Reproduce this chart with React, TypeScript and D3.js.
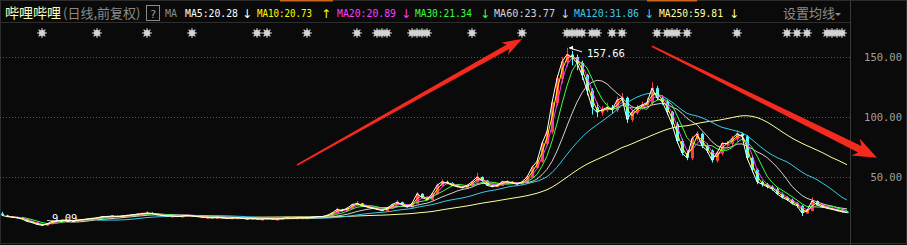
import React from 'react';
import * as d3 from 'd3';

const W = 907;
const H = 245;

// ---- data (one sample ≈ one week of trading) ----
const firstOpen = 19.5;
const closes = [
  18, 17, 16.5, 16, 15, 13, 12, 10.5, 9.8, 11,
  13, 13.5, 14, 14, 13.5, 14, 14.5, 15, 15.5, 16,
  17, 17, 17.5, 17, 17.5, 18, 18.5, 19, 19.5, 20,
  19.5, 18.5, 18, 17.5, 17.5, 17, 17.5, 18, 17.5, 17,
  16.5, 16.5, 16, 16.5, 16, 15.5, 16, 16, 15.5, 15,
  15.5, 15, 15, 15.5, 15, 15, 15.5, 16, 15.5, 16,
  16, 16, 16.5, 17, 17, 18, 20, 23, 22, 24,
  27, 28, 26, 25, 24, 23, 22, 24, 27, 29,
  27, 25, 28, 36, 33, 31, 36, 43, 46, 45,
  43, 42, 41, 43, 46, 50, 47, 43, 42, 43,
  46, 46, 45, 44, 46, 50, 58, 63, 78, 88,
  112, 132, 146, 152, 150, 145, 135, 122, 108, 104,
  106, 108, 106, 114, 116, 98, 104, 108, 110, 112,
  124, 116, 113, 104, 94, 80, 70, 66, 82, 86,
  76, 72, 64, 70, 78, 78, 82, 86, 84, 66,
  56, 46, 44, 42, 40, 36, 33, 31, 28, 26,
  20, 22, 30, 27, 25, 24, 23, 22, 21, 20.3,
];
const highs = [
  21, 18.5, 17.5, 17, 16.3, 15.3, 13.4, 12.3, 10.8, 11.6,
  13.5, 14, 14.6, 14.5, 14.3, 14.4, 15, 15.4, 16, 16.6,
  17.6, 17.8, 18.2, 18, 18, 18.6, 19.2, 19.8, 20.5, 21.5,
  20.6, 19.8, 18.9, 18.3, 18.1, 17.9, 18, 18.6, 18.3, 17.8,
  17.3, 17, 16.8, 16.9, 16.8, 16.3, 16.4, 16.6, 16.3, 15.8,
  15.9, 15.8, 15.4, 15.9, 15.7, 15.3, 15.9, 16.5, 16.2, 16.4,
  16.5, 16.4, 16.9, 17.6, 17.6, 18.6, 20.8, 24.5, 23.5, 25,
  27.8, 30, 28.4, 26.5, 25.3, 24.4, 23.3, 24.6, 27.8, 31,
  29.5, 27.4, 28.8, 37.5, 36.5, 33.5, 36.8, 44.5, 48, 47,
  45.6, 43.8, 42.5, 43.8, 46.8, 53.5, 50.5, 47.5, 43.6, 44,
  46.8, 47.5, 46.5, 45.6, 46.7, 51, 59.5, 66, 80, 92,
  114, 135, 150, 157.66, 155, 152, 147, 136, 124, 112,
  109, 112, 110, 117, 120, 117, 106, 110, 113, 116,
  129, 126, 118, 114, 105, 96, 82, 72, 84, 88,
  87, 78, 73, 71, 79, 80, 84, 89, 87, 85,
  68, 57, 47, 45, 43, 41, 37, 34, 32, 29,
  26.5, 23, 33, 30.5, 27.5, 25.8, 24.6, 23.5, 22.5, 21.5,
];
const lows = [
  17.6, 16.6, 16.1, 15.6, 14.7, 12.7, 11.6, 10.1, 9.09, 9.6,
  10.8, 12.7, 13.2, 13.6, 13.1, 13.2, 13.8, 14.2, 14.8, 15.2,
  15.8, 16.5, 16.7, 16.6, 16.8, 17.1, 17.7, 18.2, 18.7, 19.1,
  19, 18.1, 17.6, 17.1, 17, 16.6, 16.7, 17.2, 17.1, 16.6,
  16.1, 16.1, 15.6, 15.7, 15.7, 15.1, 15.2, 15.6, 15.1, 14.6,
  14.7, 14.7, 14.6, 14.8, 14.7, 14.7, 14.8, 15.3, 15.2, 15.2,
  15.6, 15.7, 15.8, 16.3, 16.6, 16.8, 17.8, 19.8, 21.3, 21.6,
  23.6, 26.5, 25.5, 24.5, 23.5, 22.5, 21.5, 21.7, 23.6, 26.7,
  26.5, 24.5, 24.6, 27.6, 32.5, 30.5, 30.6, 35.5, 42.5, 44,
  42.5, 41.3, 40.5, 40.6, 42.6, 45.6, 46.5, 42.5, 41.3, 41.6,
  42.6, 45.3, 44.5, 43.5, 43.6, 45.6, 49.5, 57, 62, 76,
  86, 109, 128, 142, 143, 139, 131, 118, 102, 100,
  101, 104, 103, 104, 112, 95, 96, 102, 106, 108,
  110, 114, 110, 102, 92, 78, 68, 64, 64, 80,
  74, 70, 62, 62, 68, 76, 76, 80, 82, 64,
  54, 44, 42, 40.5, 38.5, 35, 32, 30, 27, 24.5,
  17.5, 19.5, 21.5, 26.3, 24.5, 23.5, 22.4, 21.4, 20.3, 19.8,
];
const daysPerSample = 5.9;
const maPeriods = [5, 10, 20, 30, 60, 120, 250];
const maLastText = ['20.28', '20.73', '20.89', '21.34', '23.77', '31.86', '59.81'];
const maTrend = ['↓', '↑', '↓', '↓', '↓', '↓', '↓'];
const yTicks = [50, 100, 150];
const markerIdx = [8, 19, 29, 38, 51, 53, 61, 71, 75, 76, 77, 82, 83, 84, 85, 94, 104,
  113, 114, 115, 116, 118, 119, 122, 124, 131, 133, 134, 135, 137, 147, 157, 159, 161,
  165, 166, 167, 168];
const peakIdx = 113;
const peakValue = 157.66;
const lowIdx = 8;
const lowValue = 9.09;
// annotation arrows in data space: [tailIdx, tailPrice, tipIdx, tipPrice]
const arrows = [
  [59, 60, 104, 165],
  [130, 159, 175, 66],
];

// ---- style ----
const maColors = ['#ffffff', '#ffff00', '#ff3cff', '#3cff3c', '#d8d0d0', '#3cc8e8', '#ffff9c'];
const maTextX = [185, 257, 337, 415, 494, 574, 659];
const maTextW = [53, 55, 59, 57, 61, 65, 64];
const maArrowX = [247, 326, 406, 485, 565, 649, 734];
const arrowStyle = [
  { head: 20, wing: 7, shaft0: 0.8, shaft1: 2.6 },
  { head: 24, wing: 9.5, shaft0: 0.8, shaft1: 3.5 },
];
const mono = '"DejaVu Sans Mono", "Liberation Mono", monospace';
const cjk = '"Noto Sans CJK SC", "Noto Sans", sans-serif';

function arrowPath(t: number[], p: number[], s: { head: number; wing: number; shaft0: number; shaft1: number }) {
  const dx = p[0] - t[0];
  const dy = p[1] - t[1];
  const len = Math.hypot(dx, dy);
  const ux = dx / len, uy = dy / len;
  const nx = -uy, ny = ux;
  const bx = p[0] - ux * s.head * 0.8, by = p[1] - uy * s.head * 0.8;
  const wx = p[0] - ux * s.head, wy = p[1] - uy * s.head;
  const pts = [
    [t[0] + nx * s.shaft0, t[1] + ny * s.shaft0],
    [bx + nx * s.shaft1, by + ny * s.shaft1],
    [wx + nx * s.wing, wy + ny * s.wing],
    [p[0], p[1]],
    [wx - nx * s.wing, wy - ny * s.wing],
    [bx - nx * s.shaft1, by - ny * s.shaft1],
    [t[0] - nx * s.shaft0, t[1] - ny * s.shaft0],
  ];
  return 'M' + pts.map((q) => q[0].toFixed(1) + ',' + q[1].toFixed(1)).join('L') + 'Z';
}

export default function App() {
  const x = d3.scaleLinear().domain([0, closes.length - 1]).range([2, 847]);
  const y = d3.scaleLinear().domain([0, 150]).range([237, 57]);
  const opens = closes.map((c, i) => (i === 0 ? firstOpen : closes[i - 1]));

  const mas = maPeriods.map((p) => {
    const w = Math.max(1, Math.round(p / daysPerSample));
    return closes.map((_, i) => (i < w - 1 ? null : (d3.mean(closes.slice(i - w + 1, i + 1)) as number)));
  });
  const line = d3
    .line<number | null>()
    .defined((d) => d != null)
    .x((_, i) => x(i))
    .y((d) => y(d as number));

  const upColor = '#ff3c3c';
  const downColor = '#54fcfc';

  const star = (cx: number, cy: number, k: number) => {
    const rays = d3.range(8).map((j) => {
      const a = (j * Math.PI) / 4;
      return (
        <line key={j} x1={cx} y1={cy} x2={cx + Math.cos(a) * 4.8} y2={cy + Math.sin(a) * 4.8} stroke="#cfcfcf" strokeWidth={1.2} />
      );
    });
    return (
      <g key={k}>
        {rays}
        <circle cx={cx} cy={cy} r={3} fill="#d4d4d4" />
      </g>
    );
  };

  return (
    <svg width={W} height={H} style={{ position: 'fixed', left: 0, top: 0, background: '#0a0a0a' }}>
      <rect x={0} y={0} width={W} height={H} fill="#0a0a0a" />
      {/* frame */}
      <rect x={0.5} y={0.5} width={W - 1} height={H - 2} fill="none" stroke="#2c2c2c" />
      <line x1={0} x2={850} y1={22.5} y2={22.5} stroke="#2e2e2e" />
      <line x1={850.5} x2={850.5} y1={0} y2={H} stroke="#3a3a3a" />
      <rect x={280} y={0} width={53} height={1.5} fill="#c8641e" />
      <rect x={647} y={0} width={50} height={1.5} fill="#c8641e" />

      {/* header */}
      <text x={5} y={18} fontFamily={cjk} fontSize={14} fill="#ffffb4">哔哩哔哩</text>
      <text x={63} y={18} fontFamily={cjk} fontSize={13} fill="#8a8a8a">(日线,前复权)</text>
      <rect x={146.5} y={5.5} width={13} height={15} fill="none" stroke="#8a8a8a" />
      <text x={153} y={17.5} textAnchor="middle" fontFamily={mono} fontSize={11} fill="#9a9a9a">?</text>
      <text x={165} y={17} fontFamily={mono} fontSize={10} fill="#8a8a8a">MA</text>
      {maPeriods.map((p, i) => (
        <g key={p}>
          <text
            x={maTextX[i]}
            y={17}
            fontFamily={mono}
            fontSize={10.5}
            fill={maColors[i]}
            textLength={maTextW[i]}
            lengthAdjust="spacingAndGlyphs"
          >
            {`MA${p}:${maLastText[i]}`}
          </text>
          <text x={maArrowX[i]} y={18} textAnchor="middle" fontFamily='"DejaVu Sans", sans-serif' fontSize={12} fill={maColors[i]}>
            {maTrend[i]}
          </text>
        </g>
      ))}
      <text x={783} y={18} fontFamily={cjk} fontSize={13} fill="#8c8c8c">设置均线</text>
      <path d="M835,13 L841,13 L838,16 Z" fill="#8c8c8c" />

      {/* info markers */}
      {markerIdx.map((m, k) => star(x(m), 33, k))}

      {/* grid */}
      {yTicks.map((t) => (
        <g key={t}>
          <line x1={0} x2={850} y1={Math.round(y(t)) + 0.5} y2={Math.round(y(t)) + 0.5} stroke="#555" strokeDasharray="1 2" />
          <text x={902} y={y(t) + 4} textAnchor="end" fontFamily={mono} fontSize={10.5} fill="#a0a0a0">
            {t.toFixed(2)}
          </text>
        </g>
      ))}

      {/* candles */}
      {closes.map((c, i) => {
        const o = opens[i];
        const up = c >= o;
        const col = up ? upColor : downColor;
        const cx = Math.round(x(i)) + 0.5;
        const top = y(Math.max(o, c));
        const bot = y(Math.min(o, c));
        return (
          <g key={i}>
            <line x1={cx} x2={cx} y1={y(highs[i])} y2={y(lows[i])} stroke={col} strokeWidth={1} />
            {up ? (
              <rect x={cx - 1} y={top} width={2} height={Math.max(1, bot - top)} fill="none" stroke={col} strokeWidth={1} />
            ) : (
              <rect x={cx - 1.5} y={top} width={3} height={Math.max(1, bot - top)} fill={col} />
            )}
          </g>
        );
      })}

      {/* moving averages */}
      {mas
        .map((m, i) => (
          <path key={i} d={line(m) || ''} fill="none" stroke={maColors[i]} strokeWidth={1} />
        ))
        .reverse()}

      {/* peak / low labels */}
      <line x1={x(peakIdx) + 2} y1={y(peakValue)} x2={x(peakIdx) + 15} y2={y(peakValue) + 4} stroke="#fff" />
      <path d={`M${x(peakIdx) + 2},${y(peakValue)} l4,-2 l0,4 Z`} fill="#fff" />
      <text x={x(peakIdx) + 20} y={y(peakValue) + 9} fontFamily={mono} fontSize={10.5} fill="#ffffff">
        {peakValue.toFixed(2)}
      </text>
      <text x={x(lowIdx) + 10} y={y(lowValue) - 4} fontFamily={mono} fontSize={10.5} fill="#ffffff">
        {lowValue.toFixed(2)}
      </text>

      {/* annotation arrows */}
      {arrows.map((a, i) => (
        <path
          key={i}
          d={arrowPath([x(a[0]), y(a[1])], [x(a[2]), y(a[3])], arrowStyle[i])}
          fill="#f42a1e"
        />
      ))}
    </svg>
  );
}
